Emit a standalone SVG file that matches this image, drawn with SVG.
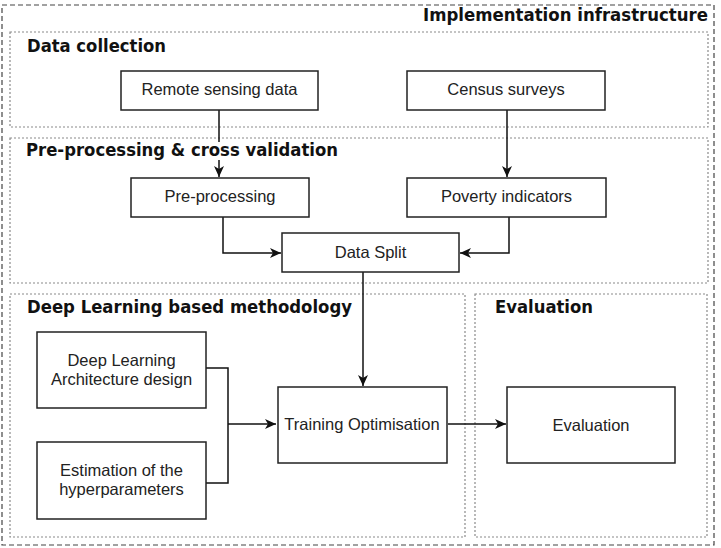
<svg xmlns="http://www.w3.org/2000/svg" width="721" height="548" viewBox="0 0 721 548">
<style>
.outer{fill:none;stroke:#444;stroke-width:1.2;stroke-dasharray:5 3}
.sect{fill:none;stroke:#8a8a8a;stroke-width:1.2;stroke-dasharray:2 2}
.title{font-family:"DejaVu Sans",Verdana,sans-serif;font-weight:bold;font-size:17px;fill:#111}
.box{fill:#fff;stroke:#222;stroke-width:1.5}
.lbl{font-family:"Liberation Sans",Arial,sans-serif;font-size:16.5px;fill:#222;text-anchor:middle}
.conn{fill:none;stroke:#111;stroke-width:1.5}
</style>
<defs>
<marker id="arr" markerUnits="userSpaceOnUse" markerWidth="12" markerHeight="10" refX="11" refY="5" orient="auto">
<path d="M0,0 L11,5 L0,10 L3,5 z" fill="#111"/>
</marker>
</defs>
<rect width="721" height="548" fill="#fff"/>
<g id="implementation-infrastructure">
<rect class="outer" x="2" y="5" width="712" height="540"/>
<text class="title" x="423" y="21" textLength="285" lengthAdjust="spacingAndGlyphs">Implementation infrastructure</text>
</g>
<g id="data-collection">
<rect class="sect" x="10" y="32" width="698" height="95"/>
<text class="title" x="27" y="52" textLength="139" lengthAdjust="spacingAndGlyphs">Data collection</text>
</g>
<g id="preprocessing-section">
<rect class="sect" x="10" y="138" width="698" height="145"/>
</g>
<g id="deep-learning-section">
<rect class="sect" x="10" y="294" width="455" height="243"/>
<text class="title" x="27" y="313" textLength="325" lengthAdjust="spacingAndGlyphs">Deep Learning based methodology</text>
</g>
<g id="evaluation-section">
<rect class="sect" x="475" y="294" width="232" height="243"/>
<text class="title" x="495" y="313" textLength="98" lengthAdjust="spacingAndGlyphs">Evaluation</text>
</g>
<g id="connectors">
<path class="conn" d="M219,110 V177" marker-end="url(#arr)"/>
<path class="conn" d="M507,110 V177" marker-end="url(#arr)"/>
<path class="conn" d="M223,217 V253 H281" marker-end="url(#arr)"/>
<path class="conn" d="M509,217 V253 H460" marker-end="url(#arr)"/>
<path class="conn" d="M363,272 V386" marker-end="url(#arr)"/>
<path class="conn" d="M206,368 H228 V483 H206"/>
<path class="conn" d="M228,424 H276" marker-end="url(#arr)"/>
<path class="conn" d="M448,424 H506" marker-end="url(#arr)"/>
</g>
<g id="preprocessing-title">
<rect x="25" y="142" width="316" height="18" fill="#fff"/>
<text class="title" x="26" y="156" textLength="312" lengthAdjust="spacingAndGlyphs">Pre-processing &amp; cross validation</text>
</g>
<g id="remote-sensing-data">
<rect class="box" x="121" y="71" width="197" height="39"/>
<text class="lbl" x="219.5" y="95">Remote sensing data</text>
</g>
<g id="census-surveys">
<rect class="box" x="407" y="71" width="198" height="39"/>
<text class="lbl" x="506" y="95">Census surveys</text>
</g>
<g id="pre-processing">
<rect class="box" x="131" y="178" width="178" height="39"/>
<text class="lbl" x="220" y="202">Pre-processing</text>
</g>
<g id="poverty-indicators">
<rect class="box" x="407" y="178" width="199" height="39"/>
<text class="lbl" x="506.5" y="202">Poverty indicators</text>
</g>
<g id="data-split">
<rect class="box" x="282" y="233" width="177" height="39"/>
<text class="lbl" x="370.5" y="258">Data Split</text>
</g>
<g id="dl-architecture">
<rect class="box" x="37" y="332" width="169" height="76"/>
<text class="lbl" x="121.5" y="366">Deep Learning</text>
<text class="lbl" x="121.5" y="385">Architecture design</text>
</g>
<g id="hyperparameters">
<rect class="box" x="37" y="442" width="169" height="77"/>
<text class="lbl" x="121.5" y="476">Estimation of the</text>
<text class="lbl" x="121.5" y="495">hyperparameters</text>
</g>
<g id="training-optimisation">
<rect class="box" x="278" y="387" width="169" height="76"/>
<text class="lbl" x="362" y="430">Training Optimisation</text>
</g>
<g id="evaluation">
<rect class="box" x="507" y="387" width="168" height="76"/>
<text class="lbl" x="591" y="431">Evaluation</text>
</g>
</svg>
